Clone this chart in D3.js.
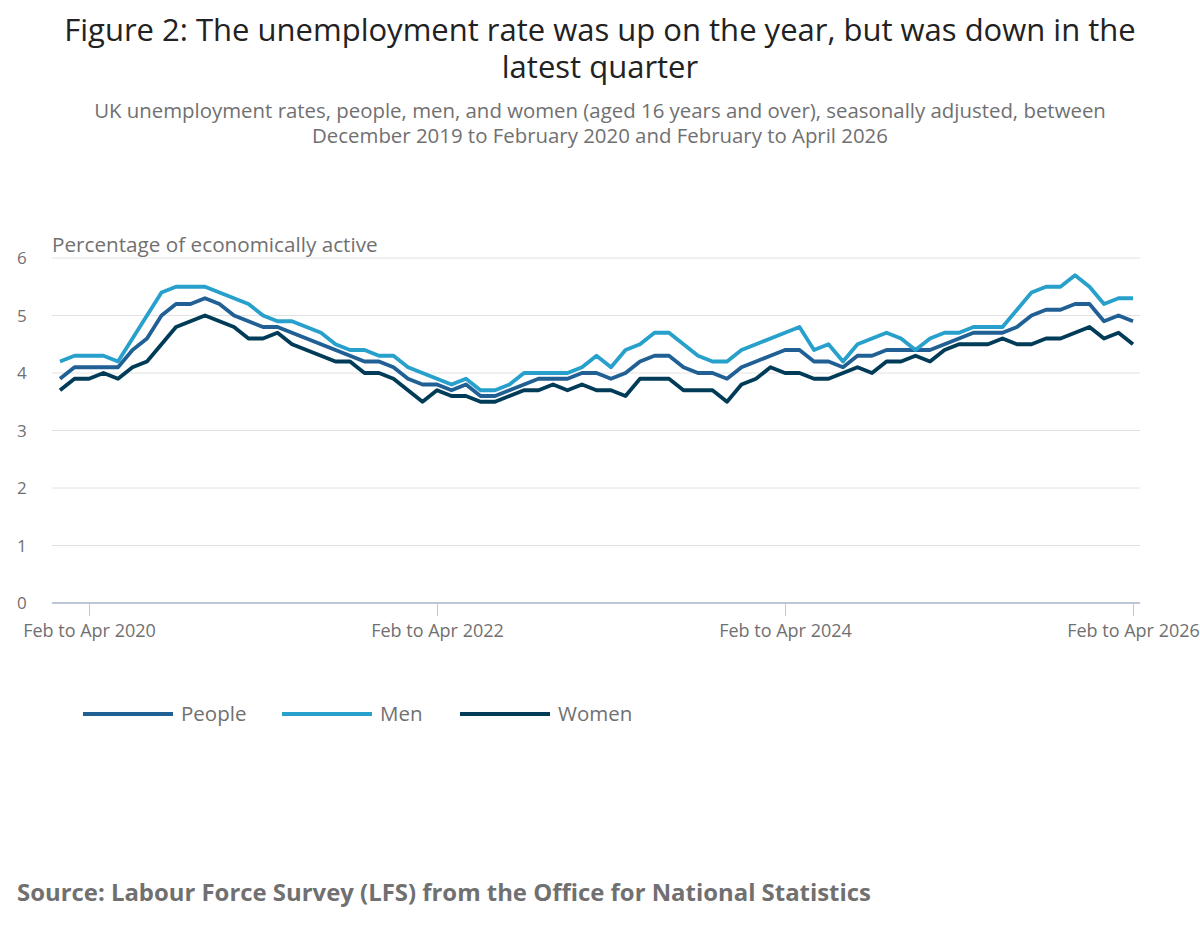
<!DOCTYPE html>
<html>
<head>
<meta charset="utf-8">
<script src="https://cdn.jsdelivr.net/npm/d3@7"></script>
<style>
  body { margin: 0; background: #fff; font-family: "Open Sans", "Noto Sans", sans-serif; }
  .grid line { stroke: #e2e2e3; stroke-width: 1; }
  .axis--x path { display: none; }
  .axis--x line { stroke: #bcc6d6; }
  .axis--x text { fill: #707071; font-size: 18px; font-family: "Open Sans", sans-serif; }
  .line { fill: none; stroke-width: 3.8; stroke-linejoin: round; }
</style>
</head>
<body>
<div id="chart"></div>
<script>
var months = ["Jan","Feb","Mar","Apr","May","Jun","Jul","Aug","Sep","Oct","Nov","Dec"];

// rolling quarters, Dec to Feb 2020 ... Feb to Apr 2026
var periods = [];
for (var k = 0; k < 75; k++) {
  var m = 11 + k;
  periods.push(months[m % 12] + " to " + months[(m + 2) % 12] + " " + (2019 + Math.floor((m + 2) / 12)));
}

var tickLabels = ["Feb to Apr 2020", "Feb to Apr 2022", "Feb to Apr 2024", "Feb to Apr 2026"];
var yTicks = [0, 1, 2, 3, 4, 5, 6];

var people = [3.9,4.1,4.1,4.1,4.1,4.4,4.6,5.0,5.2,5.2,5.3,5.2,5.0,4.9,4.8,4.8,4.7,4.6,4.5,4.4,
  4.3,4.2,4.2,4.1,3.9,3.8,3.8,3.7,3.8,3.6,3.6,3.7,3.8,3.9,3.9,3.9,4.0,4.0,3.9,4.0,
  4.2,4.3,4.3,4.1,4.0,4.0,3.9,4.1,4.2,4.3,4.4,4.4,4.2,4.2,4.1,4.3,4.3,4.4,4.4,4.4,
  4.4,4.5,4.6,4.7,4.7,4.7,4.8,5.0,5.1,5.1,5.2,5.2,4.9,5.0,4.9];

var men = [4.2,4.3,4.3,4.3,4.2,4.6,5.0,5.4,5.5,5.5,5.5,5.4,5.3,5.2,5.0,4.9,4.9,4.8,4.7,4.5,
  4.4,4.4,4.3,4.3,4.1,4.0,3.9,3.8,3.9,3.7,3.7,3.8,4.0,4.0,4.0,4.0,4.1,4.3,4.1,4.4,
  4.5,4.7,4.7,4.5,4.3,4.2,4.2,4.4,4.5,4.6,4.7,4.8,4.4,4.5,4.2,4.5,4.6,4.7,4.6,4.4,
  4.6,4.7,4.7,4.8,4.8,4.8,5.1,5.4,5.5,5.5,5.7,5.5,5.2,5.3,5.3];

var women = [3.7,3.9,3.9,4.0,3.9,4.1,4.2,4.5,4.8,4.9,5.0,4.9,4.8,4.6,4.6,4.7,4.5,4.4,4.3,4.2,
  4.2,4.0,4.0,3.9,3.7,3.5,3.7,3.6,3.6,3.5,3.5,3.6,3.7,3.7,3.8,3.7,3.8,3.7,3.7,3.6,
  3.9,3.9,3.9,3.7,3.7,3.7,3.5,3.8,3.9,4.1,4.0,4.0,3.9,3.9,4.0,4.1,4.0,4.2,4.2,4.3,
  4.2,4.4,4.5,4.5,4.5,4.6,4.5,4.5,4.6,4.6,4.7,4.8,4.6,4.7,4.5];

var seriesNames = ["People", "Men", "Women"];
var seriesColors = ["#206095", "#27a0cc", "#003c57"];
var seriesData = [people, men, women];

var svg = d3.select("#chart").append("svg")
    .attr("width", 1200)
    .attr("height", 941);

// titles, one text per line
var titleLines = ["Figure 2: The unemployment rate was up on the year, but was down in the", "latest quarter"];
var subLines = ["UK unemployment rates, people, men, and women (aged 16 years and over), seasonally adjusted, between",
  "December 2019 to February 2020 and February to April 2026"];

svg.append("g").selectAll("text")
    .data(titleLines)
  .enter().append("text")
    .attr("x", 600)
    .attr("y", function(d, i) { return 41 + i * 37; })
    .attr("text-anchor", "middle")
    .attr("fill", "#222222")
    .style("font-size", "31px")
    .text(function(d) { return d; });

svg.append("g").selectAll("text")
    .data(subLines)
  .enter().append("text")
    .attr("x", 600)
    .attr("y", function(d, i) { return 118 + i * 25; })
    .attr("text-anchor", "middle")
    .attr("fill", "#707071")
    .style("font-size", "20.4px")
    .text(function(d) { return d; });

var x = d3.scalePoint()
    .domain(periods)
    .range([60, 1133]);

var y = d3.scaleLinear()
    .domain([0, 6])
    .range([603, 258]);

// gridlines
var grid = svg.append("g").attr("class", "grid");
grid.selectAll("line")
    .data(yTicks.filter(function(d) { return d > 0; }))
  .enter().append("line")
    .attr("x1", 52)
    .attr("x2", 1140)
    .attr("y1", function(d) { return y(d); })
    .attr("y2", function(d) { return y(d); });

svg.append("line")
    .attr("x1", 52).attr("x2", 1140)
    .attr("y1", y(0)).attr("y2", y(0))
    .style("stroke", "#bcc6d6")
    .style("stroke-width", 2);

svg.append("g").selectAll("text")
    .data(yTicks)
  .enter().append("text")
    .attr("x", 17)
    .attr("y", function(d) { return y(d) + 6; })
    .attr("fill", "#707071")
    .style("font-size", "17px")
    .text(function(d) { return d; });

svg.append("text")
    .attr("x", 52)
    .attr("y", 252)
    .attr("fill", "#707071")
    .style("font-size", "20.7px")
    .text("Percentage of economically active");

// x axis
svg.append("g")
    .attr("class", "axis axis--x")
    .attr("transform", "translate(0," + y(0) + ")")
    .call(d3.axisBottom(x).tickValues(tickLabels).tickSize(13).tickPadding(8));

// lines
var line = d3.line()
    .x(function(d, i) { return x(periods[i]); })
    .y(function(d) { return y(d); });

svg.append("g").selectAll("path")
    .data(seriesData)
  .enter().append("path")
    .attr("class", "line")
    .attr("d", line)
    .style("stroke", function(d, i) { return seriesColors[i]; });

// legend
var legendX = [83, 282, 460];
var legend = svg.append("g").selectAll("g")
    .data(seriesNames)
  .enter().append("g")
    .attr("transform", function(d, i) { return "translate(" + legendX[i] + ",714)"; });

legend.append("line")
    .attr("x1", 0).attr("x2", 90)
    .style("stroke", function(d, i) { return seriesColors[i]; })
    .style("stroke-width", 4);

legend.append("text")
    .attr("x", 98)
    .attr("y", 7)
    .attr("fill", "#707071")
    .style("font-size", "20.5px")
    .text(function(d) { return d; });

svg.append("text")
    .attr("x", 17)
    .attr("y", 901)
    .attr("fill", "#707071")
    .style("font-size", "23.9px")
    .style("font-weight", "bold")
    .text("Source: Labour Force Survey (LFS) from the Office for National Statistics");
</script>
</body>
</html>
